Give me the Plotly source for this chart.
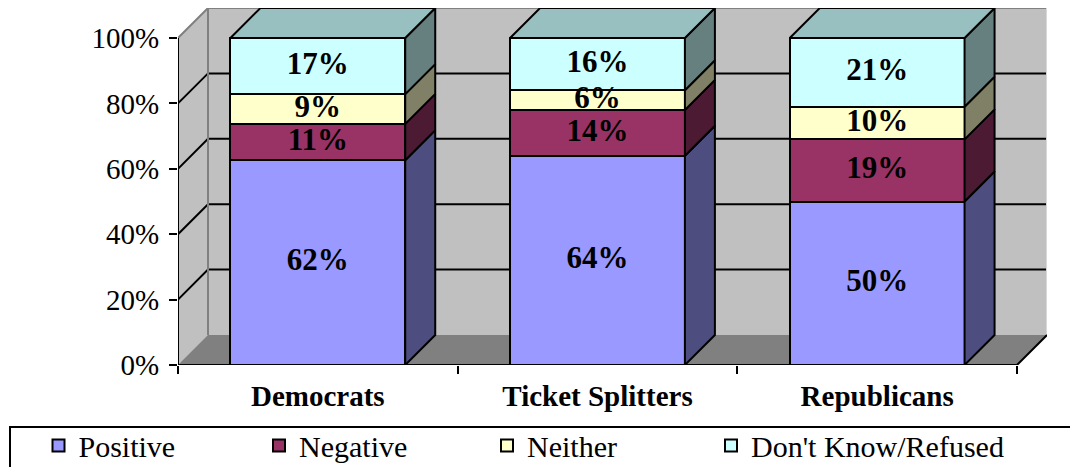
import plotly.graph_objects as go
import numpy as np

# Data (raw labels as shown in the chart; bars are drawn as 100% stacked)
categories = ["Democrats", "Ticket Splitters", "Republicans"]
series_names = ["Positive", "Negative", "Neither", "Don't Know/Refused"]
positive = [62, 64, 50]
negative = [11, 14, 19]
neither = [9, 6, 10]
dont_know = [17, 16, 21]
y_ticks = [0, 20, 40, 60, 80, 100]

front_colors = ["#9999FF", "#993366", "#FFFFCC", "#CCFFFF"]
side_colors = ["#4D4D80", "#4D1A33", "#808066", "#668080"]
top_color = "#99C0C0"

# Page geometry (the page body adds an 8px margin around the figure)
OFF = 8
W, H = 1078 - OFF, 467 - OFF
ML, MT = 178 - OFF, 8 - OFF
MR = W - (1047 - OFF)
MB = H - (365 - OFF)
DEPTH_PX = 30
plot_w = W - ML - MR
plot_h = H - MT - MB
n = len(categories)
DX = n * DEPTH_PX / (plot_w - DEPTH_PX)       # depth offset in x units
DY = 100 * DEPTH_PX / (plot_h - DEPTH_PX)     # depth offset in y units
BAR_W = 0.625
x0, x1 = -0.5, n - 0.5

series = [positive, negative, neither, dont_know]
vals = np.array(series, dtype=float)
norm = vals / vals.sum(axis=0) * 100
cum_top = np.cumsum(norm, axis=0)
cum_bot = cum_top - norm


def paper_x(p):
    return (p - OFF - ML) / plot_w


def paper_y(p):
    return (H + OFF - MB - p) / plot_h


fig = go.Figure()
xs = list(range(n))

# legend symbol centres on the page
legend_sym_x = [60.5, 281, 509, 733]
legend_names = ["legend", "legend2", "legend3", "legend4"]

# Front faces of the stacked bars
for k, name in enumerate(series_names):
    fig.add_trace(go.Bar(
        x=xs, y=series[k], name=name, width=BAR_W, legend=legend_names[k],
        marker=dict(color=front_colors[k], line=dict(color="black", width=2)),
        hoverinfo="skip",
    ))

# Side faces
for k in range(len(series)):
    px, py = [], []
    for i in range(n):
        xr = i + BAR_W / 2
        lo, hi = cum_bot[k, i], cum_top[k, i]
        px += [xr, xr + DX, xr + DX, xr, xr, None]
        py += [lo, lo + DY, hi + DY, hi, lo, None]
    fig.add_trace(go.Scatter(
        x=px, y=py, mode="lines", fill="toself", fillcolor=side_colors[k],
        line=dict(color="black", width=2), showlegend=False, hoverinfo="skip",
    ))

# Top faces
px, py = [], []
for i in range(n):
    xl, xr = i - BAR_W / 2, i + BAR_W / 2
    t = cum_top[-1, i]
    px += [xl, xr, xr + DX, xl + DX, xl, None]
    py += [t, t, t + DY, t + DY, t, None]
fig.add_trace(go.Scatter(
    x=px, y=py, mode="lines", fill="toself", fillcolor=top_color,
    line=dict(color="black", width=2), showlegend=False, hoverinfo="skip",
))

# Data labels
lx, ly, lt = [], [], []
for k in range(len(series)):
    for i in range(n):
        lx.append(i)
        ly.append((cum_bot[k, i] + cum_top[k, i]) / 2)
        lt.append(f"{series[k][i]}%")
fig.add_trace(go.Scatter(
    x=lx, y=ly, text=lt, mode="text", showlegend=False, hoverinfo="skip",
    textfont=dict(family="Liberation Serif", size=31, color="black", weight="bold"),
))

# Walls, floor, gridlines
shapes = []
wall = "#C0C0C0"
edge = "#808080"
shapes.append(dict(type="rect", xref="x", yref="y", x0=x0 + DX, x1=x1 + DX, y0=DY, y1=100 + DY,
                   fillcolor=wall, line=dict(width=0), layer="below"))
shapes.append(dict(type="path", xref="x", yref="y", layer="below", fillcolor=wall,
                   line=dict(width=0),
                   path=f"M{x0},0 L{x0 + DX},{DY} L{x0 + DX},{100 + DY} L{x0},100 Z"))
shapes.append(dict(type="path", xref="x", yref="y", layer="below", fillcolor="#808080",
                   line=dict(width=0),
                   path=f"M{x0},0 L{x1},0 L{x1 + DX},{DY} L{x0 + DX},{DY} Z"))
for v in y_ticks[1:-1]:
    shapes.append(dict(type="path", xref="x", yref="y", layer="below",
                       line=dict(color="black", width=2),
                       path=f"M{x0},{v} L{x0 + DX},{v + DY} L{x1 + DX},{v + DY}"))
# wall edges
shapes.append(dict(type="path", xref="x", yref="y", layer="below",
                   line=dict(color=edge, width=2),
                   path=f"M{x0},100 L{x0 + DX},{100 + DY} L{x1 + DX},{100 + DY}"))
shapes.append(dict(type="line", xref="x", yref="y", layer="below",
                   line=dict(color="#D8D8D8", width=2),
                   x0=x1 + DX, x1=x1 + DX, y0=DY, y1=100 + DY))
shapes.append(dict(type="line", xref="x", yref="y", layer="below",
                   line=dict(color=edge, width=2),
                   x0=x0 + DX, x1=x0 + DX, y0=DY, y1=100 + DY))
shapes.append(dict(type="line", xref="x", yref="y", layer="below",
                   line=dict(color="#A0A0A0", width=1),
                   x0=x0, x1=x0 + DX, y0=0, y1=DY))
# front axes
shapes.append(dict(type="path", xref="x", yref="y", layer="below",
                   line=dict(color="black", width=2),
                   path=f"M{x0},100 L{x0},0 L{x1},0 L{x1 + DX},{DY}"))

# Legend box
shapes.append(dict(type="rect", xref="paper", yref="paper",
                   x0=paper_x(10), x1=paper_x(1100), y0=paper_y(427), y1=paper_y(490),
                   line=dict(color="black", width=2), fillcolor="rgba(0,0,0,0)"))

legend_font = dict(family="Liberation Serif", size=30, color="black")
legends = {}
for k, lname in enumerate(legend_names):
    legends[lname] = dict(
        x=paper_x(legend_sym_x[k] - 22), xanchor="left",
        y=paper_y(445.5), yanchor="middle",
        font=legend_font, bgcolor="rgba(0,0,0,0)", borderwidth=0,
    )

fig.update_layout(
    width=W, height=H,
    margin=dict(l=ML, r=MR, t=MT, b=MB, autoexpand=False),
    barmode="stack", barnorm="percent",
    paper_bgcolor="white", plot_bgcolor="white",
    shapes=shapes,
    showlegend=True,
    xaxis=dict(
        range=[x0, x1 + DX], tickmode="array", tickvals=xs, ticktext=categories,
        ticks="", showgrid=False, zeroline=False, showline=False,
        tickfont=dict(family="Liberation Serif", size=29, color="black", weight="bold"),
        ticklabelstandoff=11,
        minor=dict(tickmode="array", tickvals=[x0 + i for i in range(n + 1)],
                   ticks="outside", ticklen=8, tickwidth=2, tickcolor="black", showgrid=False),
        fixedrange=True,
    ),
    yaxis=dict(
        range=[0, 100 + DY], tickmode="array", tickvals=y_ticks,
        ticktext=[f"{v}%" for v in y_ticks],
        ticks="outside", ticklen=8, tickwidth=2, tickcolor="black",
        showgrid=False, zeroline=False, showline=False,
        tickfont=dict(family="Liberation Serif", size=29, color="black"),
        ticklabelstandoff=4,
        fixedrange=True,
    ),
    **legends,
)

fig.write_html("out.html")
